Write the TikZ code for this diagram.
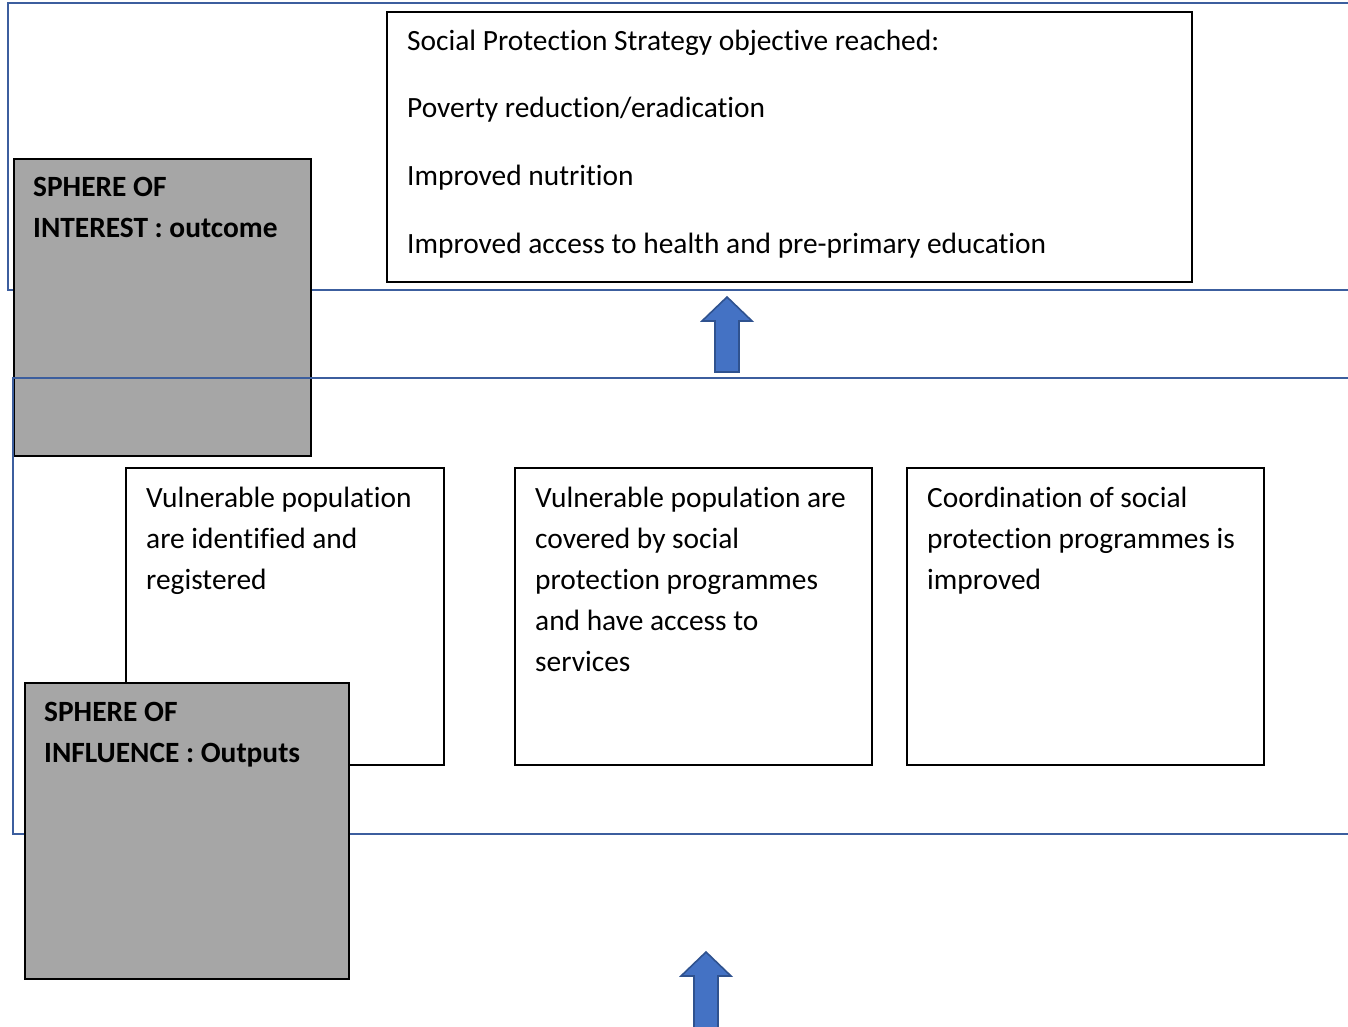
\documentclass[tikz,border=0pt]{standalone}
\usepackage{fontspec}
\setmainfont{Carlito}[Ligatures=NoCommon]
% fixed height for the first line of a text block, so its baseline is known
\newcommand{\firstline}{\rule{0pt}{24pt}}
\begin{document}
\begin{tikzpicture}[x=1pt,y=-1pt,
  sphere/.style={draw=sphereblue,line width=2.8pt},
  textbox/.style={draw=black,line width=1.8pt,fill=white,anchor=north west,inner sep=0pt},
  greybox/.style={draw=black,line width=1.8pt,fill=greyfill,anchor=north west,inner sep=0pt},
  boxtext/.style={anchor=north west,align=left,inner sep=0pt,font=\fontsize{29.4}{41}\selectfont},
  headtext/.style={anchor=north west,align=left,inner sep=0pt,font=\fontsize{29.4}{67.7}\selectfont},
  greytext/.style={anchor=north west,align=left,inner sep=0pt,font=\fontsize{29.4}{41}\selectfont\bfseries},
  uparrow/.style={fill=arrowblue,draw=arrowedge,line width=1.6pt,line join=miter}]
\definecolor{sphereblue}{HTML}{3C5E9E}
\definecolor{greyfill}{HTML}{A6A6A6}
\definecolor{arrowblue}{HTML}{4472C4}
\definecolor{arrowedge}{HTML}{2F528F}
\useasboundingbox (0,0) rectangle (1348,1027);
\clip (0,0) rectangle (1348,1027);

% sphere of interest band
\draw[sphere] (8,3) rectangle (1370,290);

% outcome box
\node[textbox,minimum width=805pt,minimum height=270pt] (outcome) at (386,11) {};
\node[headtext] (outcomet) at (407,26)
  {\firstline Social Protection Strategy objective reached:\\
   Poverty reduction/eradication\\
   Improved nutrition\\
   Improved access to health and pre-primary education};

% sphere of interest label
\node[greybox,minimum width=297pt,minimum height=297pt] (interest) at (13,158) {};
\node[greytext] (interestt) at (33,172) {\firstline SPHERE OF\\INTEREST : outcome};

% sphere of influence band
\draw[sphere] (13,378) rectangle (1370,834);

% output boxes
\node[textbox,minimum width=318pt,minimum height=297pt] (out1) at (125,467) {};
\node[boxtext] (out1t) at (146,483)
  {\firstline Vulnerable population\\are identified and\\registered};
\node[textbox,minimum width=357pt,minimum height=297pt] (out2) at (514,467) {};
\node[boxtext] (out2t) at (535,483)
  {\firstline Vulnerable population are\\covered by social\\protection programmes\\and have access to\\services};
\node[textbox,minimum width=357pt,minimum height=297pt] (out3) at (906,467) {};
\node[boxtext] (out3t) at (927,483)
  {\firstline Coordination of social\\protection programmes is\\improved};

% sphere of influence label
\node[greybox,minimum width=324pt,minimum height=296pt] (influence) at (24,682) {};
\node[greytext] (influencet) at (44,697) {\firstline SPHERE OF\\INFLUENCE : Outputs};

% block arrows
\draw[uparrow] (727,297) -- (752,321) -- (739,321) -- (739,372) -- (715,372)
  -- (715,321) -- (702,321) -- cycle;
\draw[uparrow] (706,952) -- (731,976) -- (718,976) -- (718,1035) -- (694,1035)
  -- (694,976) -- (681,976) -- cycle;
\end{tikzpicture}
\end{document}
